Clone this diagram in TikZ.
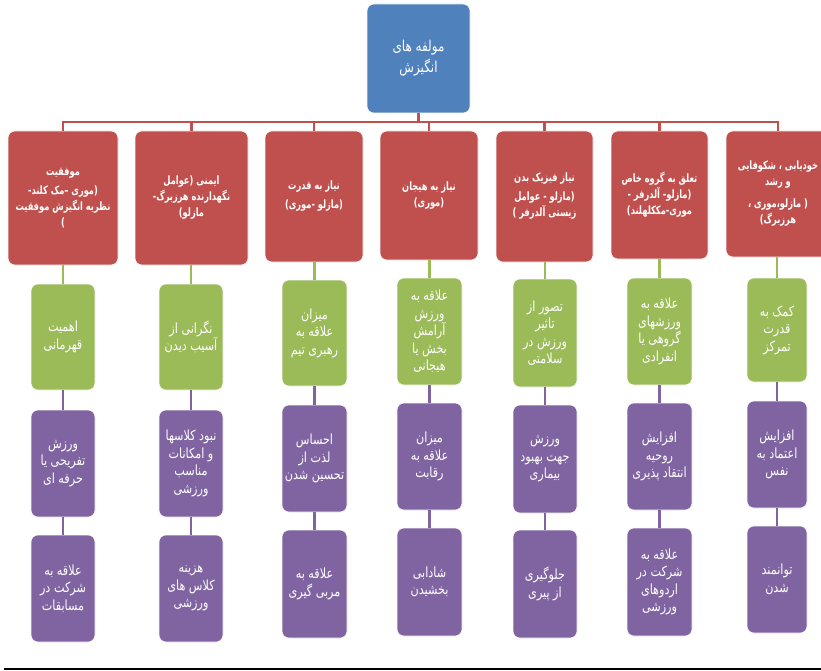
\documentclass[tikz,border=0pt]{standalone}
\usepackage{fontspec}
\TeXXeTstate=1
\newfontfamily\arabicfont[Script=Arabic, FakeStretch=0.8]{DejaVu Sans}
\newfontfamily\arabichead[Script=Arabic, FakeStretch=0.72]{DejaVu Sans}
\newcommand\ar[1]{\beginR #1\endR}
\definecolor{myblue}{HTML}{4F81BD}
\definecolor{myred}{HTML}{C0504D}
\definecolor{mygreen}{HTML}{9BBB59}
\definecolor{mypurple}{HTML}{8064A2}
\tikzset{
  box/.style={rounded corners=7pt, draw=white!70!black!10, line width=0.6pt, text=white, align=center, inner sep=1pt},
  topbox/.style={box, fill=myblue, font=\arabicfont\fontsize{15}{21}\selectfont},
  hbox/.style={box, fill=myred, font=\arabichead\bfseries\fontsize{11.5}{16}\selectfont},
  gbox/.style={box, fill=mygreen, font=\arabicfont\fontsize{14}{17.5}\selectfont},
  pbox/.style={box, fill=mypurple, font=\arabicfont\fontsize{14}{17.5}\selectfont},
  redc/.style={draw=myred, line width=2.5pt},
  greenc/.style={draw=mygreen, line width=2.5pt},
  purc/.style={draw=mypurple, line width=2.5pt},
}
\begin{document}
\begin{tikzpicture}[x=1pt, y=-1pt]
\useasboundingbox (0,0) rectangle (821,671);
% top
\node[topbox, minimum width=103pt, minimum height=109pt] (top) at (418.5,58.5) {\ar{مولفه های}\\\ar{انگیزش}};
\coordinate (bus) at (418.5,122);
% headers
\node[hbox, minimum width=110pt, minimum height=134pt] (h1) at (63,198) {\ar{موفقیت}\\[3pt]\ar{(موری –مک کلند-}\\\ar{نظریه انگیزش موفقیت}\\\ar{)}};
\node[hbox, minimum width=113pt, minimum height=134pt] (h2) at (191.5,198) {\ar{ایمنی (عوامل}\\\ar{نگهدارنده هرزبرگ-}\\\ar{مازلو)}};
\node[hbox, minimum width=98pt, minimum height=131pt] (h3) at (314,196.5) {\ar{نیاز به قدرت}\\[3pt]\ar{(مازلو -موری)}};
\node[hbox, minimum width=98pt, minimum height=129pt] (h4) at (429,195.5) {\ar{نیاز به هیجان}\\\ar{(موری)}};
\node[hbox, minimum width=97pt, minimum height=131pt] (h5) at (544.5,196.5) {\ar{نیاز فیزیک بدن}\\[3pt]\ar{(مازلو - عوامل}\\\ar{زیستی آلدرفر )}};
\node[hbox, minimum width=97pt, minimum height=128pt] (h6) at (659.5,195) {\ar{تعلق به گروه خاص}\\\ar{(مازلو- آلدرفر -}\\\ar{موری-مککلهلند)}};
\node[hbox, minimum width=104pt, minimum height=126pt] (h7) at (778,194) {\ar{خودیابی ، شکوفایی}\\\ar{و رشد}\\[6pt]\ar{( مازلو،موری ،}\\\ar{هرزبرگ)}};
% green
\node[gbox, minimum width=64pt, minimum height=106pt] (g1) at (63,337) {\ar{اهمیت}\\\ar{قهرمانی}};
\node[gbox, minimum width=64pt, minimum height=106pt] (g2) at (191,337) {\ar{نگرانی از}\\\ar{آسیب دیدن}};
\node[gbox, minimum width=65pt, minimum height=106pt] (g3) at (314.5,333) {\ar{میزان}\\\ar{علاقه به}\\\ar{رهبری تیم}};
\node[gbox, minimum width=65pt, minimum height=107pt] (g4) at (429.5,331.5) {\ar{علاقه به}\\\ar{ورزش}\\\ar{آرامش}\\\ar{بخش یا}\\\ar{هیجانی}};
\node[gbox, minimum width=64pt, minimum height=108pt] (g5) at (545,333) {\ar{تصور از}\\\ar{تاثیر}\\\ar{ورزش در}\\\ar{سلامتی}};
\node[gbox, minimum width=65pt, minimum height=107pt] (g6) at (659.5,331.5) {\ar{علاقه به}\\\ar{ورزشهای}\\\ar{گروهی یا}\\\ar{انفرادی}};
\node[gbox, minimum width=60pt, minimum height=104pt] (g7) at (777,330) {\ar{کمک به}\\\ar{قدرت}\\\ar{تمرکز}};
% purple row 1
\node[pbox, minimum width=64pt, minimum height=107pt] (p1) at (63,463.5) {\ar{ورزش}\\\ar{تفریحی یا}\\\ar{حرفه ای}};
\node[pbox, minimum width=64pt, minimum height=107pt] (p2) at (191,463.5) {\ar{نبود کلاسها}\\\ar{و امکانات}\\\ar{مناسب}\\\ar{ورزشی}};
\node[pbox, minimum width=65pt, minimum height=107pt] (p3) at (314.5,458.5) {\ar{احساس}\\\ar{لذت از}\\\ar{تحسین شدن}};
\node[pbox, minimum width=65pt, minimum height=107pt] (p4) at (429.5,456.5) {\ar{میزان}\\\ar{علاقه به}\\\ar{رقابت}};
\node[pbox, minimum width=64pt, minimum height=108pt] (p5) at (545,459) {\ar{ورزش}\\\ar{جهت بهبود}\\\ar{بیماری}};
\node[pbox, minimum width=65pt, minimum height=107pt] (p6) at (659.5,456.5) {\ar{افزایش}\\\ar{روحیه}\\\ar{انتقاد پذیری}};
\node[pbox, minimum width=60pt, minimum height=107pt] (p7) at (777,454.5) {\ar{افزایش}\\\ar{اعتماد به}\\\ar{نفس}};
% purple row 2
\node[pbox, minimum width=64pt, minimum height=107pt] (q1) at (63,588.5) {\ar{علاقه به}\\\ar{شرکت در}\\\ar{مسابقات}};
\node[pbox, minimum width=64pt, minimum height=107pt] (q2) at (191,588.5) {\ar{هزینه}\\\ar{کلاس های}\\\ar{ورزشی}};
\node[pbox, minimum width=65pt, minimum height=108pt] (q3) at (314.5,584) {\ar{علاقه به}\\\ar{مربی گیری}};
\node[pbox, minimum width=65pt, minimum height=108pt] (q4) at (429.5,582) {\ar{شادابی}\\\ar{بخشیدن}};
\node[pbox, minimum width=64pt, minimum height=108pt] (q5) at (545,584) {\ar{جلوگیری}\\\ar{از پیری}};
\node[pbox, minimum width=65pt, minimum height=108pt] (q6) at (659.5,582) {\ar{علاقه به}\\\ar{شرکت در}\\\ar{اردوهای}\\\ar{ورزشی}};
\node[pbox, minimum width=60pt, minimum height=107pt] (q7) at (777,579.5) {\ar{توانمند}\\\ar{شدن}};
% connectors
\foreach \i in {1,...,7}{
  \draw[redc] (top.south) -- (bus) -| (h\i.north);
  \draw[greenc] (g\i.north |- h\i.south) -- (g\i.north);
  \draw[purc] (p\i.north |- g\i.south) -- (p\i.north);
  \draw[purc] (q\i.north |- p\i.south) -- (q\i.north);
}
% bottom rule
\coordinate (ruleL) at (4,669);
\coordinate (ruleR) at (821,669);
\draw[line width=2pt, black] (ruleL) -- (ruleR);
\end{tikzpicture}
\end{document}
